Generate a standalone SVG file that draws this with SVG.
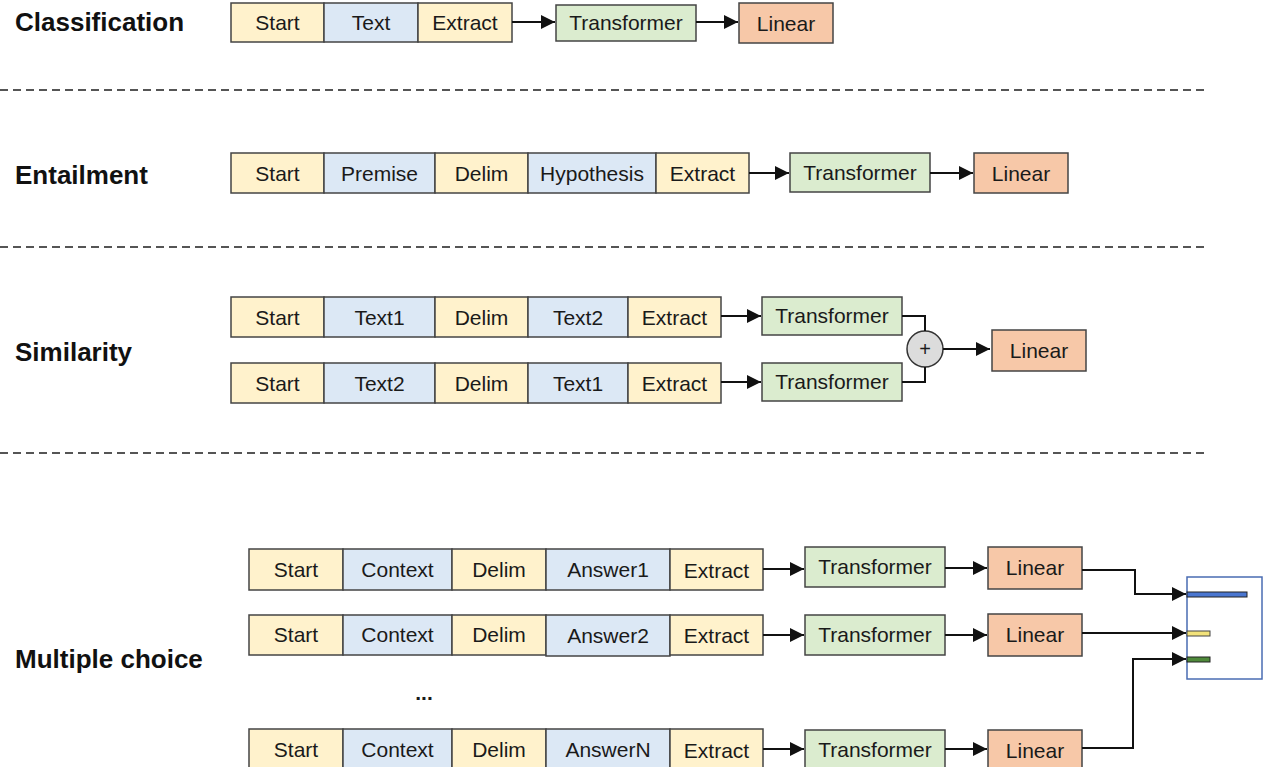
<svg xmlns="http://www.w3.org/2000/svg" width="1270" height="767" viewBox="0 0 1270 767">
  <style>
    .y { fill: #fff2cc; stroke: #444; stroke-width: 1.5; }
    .b { fill: #dce8f5; stroke: #444; stroke-width: 1.5; }
    .g { fill: #dbeccf; stroke: #444; stroke-width: 1.5; }
    .o { fill: #f7c8a8; stroke: #444; stroke-width: 1.5; }
    .t { font-family: "Liberation Sans", Arial, sans-serif; font-size: 21px; fill: #1a1a1a; text-anchor: middle; }
    .h { font-family: "Liberation Sans", Arial, sans-serif; font-size: 26px; font-weight: bold; fill: #111; }
    .sep { stroke: #555; stroke-width: 2; stroke-dasharray: 8 5; fill: none; }
    .c { stroke: #111; stroke-width: 2; fill: none; }
    .ca { stroke: #111; stroke-width: 2; fill: none; marker-end: url(#arr); }
  </style>
  <defs>
    <marker id="arr" viewBox="0 0 10 10" refX="10" refY="5" markerWidth="7" markerHeight="7" orient="auto" markerUnits="strokeWidth">
      <path d="M0,0 L10,5 L0,10 z" fill="#111"/>
    </marker>
  </defs>
  <rect width="1270" height="767" fill="#ffffff"/>

  <!-- section titles -->
  <g id="titles">
    <text class="h" x="15" y="31">Classification</text>
    <text class="h" x="15" y="184">Entailment</text>
    <text class="h" x="15" y="361">Similarity</text>
    <text class="h" x="15" y="668">Multiple choice</text>
  </g>

  <!-- section separators -->
  <g id="separators">
    <line class="sep" x1="0" y1="90" x2="1205" y2="90"/>
    <line class="sep" x1="0" y1="247" x2="1205" y2="247"/>
    <line class="sep" x1="0" y1="453" x2="1205" y2="453"/>
  </g>

  <!-- Classification -->
  <g id="cls-input">
    <rect class="y" x="231" y="3" width="93" height="39"/><text class="t" x="277.5" y="30">Start</text>
    <rect class="b" x="324" y="3" width="94" height="39"/><text class="t" x="371" y="30">Text</text>
    <rect class="y" x="418" y="3" width="94" height="39"/><text class="t" x="465" y="30">Extract</text>
  </g>
  <g id="cls-transformer"><rect class="g" x="556" y="5" width="140" height="36"/><text class="t" x="626" y="30">Transformer</text></g>
  <g id="cls-linear"><rect class="o" x="739" y="3" width="94" height="40"/><text class="t" x="786" y="31">Linear</text></g>

  <!-- Entailment -->
  <g id="ent-input">
    <rect class="y" x="231" y="153" width="93" height="40"/><text class="t" x="277.5" y="181">Start</text>
    <rect class="b" x="324" y="153" width="111" height="40"/><text class="t" x="379.5" y="181">Premise</text>
    <rect class="y" x="435" y="153" width="93" height="40"/><text class="t" x="481.5" y="181">Delim</text>
    <rect class="b" x="528" y="153" width="128" height="40"/><text class="t" x="592" y="181">Hypothesis</text>
    <rect class="y" x="656" y="153" width="93" height="40"/><text class="t" x="702.5" y="181">Extract</text>
  </g>
  <g id="ent-transformer"><rect class="g" x="790" y="153" width="140" height="39"/><text class="t" x="860" y="180">Transformer</text></g>
  <g id="ent-linear"><rect class="o" x="974" y="153" width="94" height="40"/><text class="t" x="1021" y="181">Linear</text></g>

  <!-- Similarity -->
  <g id="sim-input-1">
    <rect class="y" x="231" y="297" width="93" height="40"/><text class="t" x="277.5" y="325">Start</text>
    <rect class="b" x="324" y="297" width="111" height="40"/><text class="t" x="379.5" y="325">Text1</text>
    <rect class="y" x="435" y="297" width="93" height="40"/><text class="t" x="481.5" y="325">Delim</text>
    <rect class="b" x="528" y="297" width="100" height="40"/><text class="t" x="578" y="325">Text2</text>
    <rect class="y" x="628" y="297" width="93" height="40"/><text class="t" x="674.5" y="325">Extract</text>
  </g>
  <g id="sim-input-2">
    <rect class="y" x="231" y="363" width="93" height="40"/><text class="t" x="277.5" y="391">Start</text>
    <rect class="b" x="324" y="363" width="111" height="40"/><text class="t" x="379.5" y="391">Text2</text>
    <rect class="y" x="435" y="363" width="93" height="40"/><text class="t" x="481.5" y="391">Delim</text>
    <rect class="b" x="528" y="363" width="100" height="40"/><text class="t" x="578" y="391">Text1</text>
    <rect class="y" x="628" y="363" width="93" height="40"/><text class="t" x="674.5" y="391">Extract</text>
  </g>
  <g id="sim-transformer-1"><rect class="g" x="762" y="297" width="140" height="38"/><text class="t" x="832" y="323">Transformer</text></g>
  <g id="sim-transformer-2"><rect class="g" x="762" y="363" width="140" height="38"/><text class="t" x="832" y="389">Transformer</text></g>
  <g id="sim-sum">
    <circle cx="925" cy="349" r="18" fill="#dcdcdc" stroke="#333" stroke-width="1.5"/>
    <text class="t" x="925" y="356" style="font-size:20px">+</text>
  </g>
  <g id="sim-linear"><rect class="o" x="992" y="330" width="94" height="41"/><text class="t" x="1039" y="358">Linear</text></g>

  <!-- Multiple choice -->
  <g id="mc-input-1">
    <rect class="y" x="249" y="549" width="94" height="41"/><text class="t" x="296" y="577">Start</text>
    <rect class="b" x="343" y="549" width="109" height="41"/><text class="t" x="397.5" y="577">Context</text>
    <rect class="y" x="452" y="549" width="94" height="41"/><text class="t" x="499" y="577">Delim</text>
    <rect class="b" x="546" y="549" width="124" height="41"/><text class="t" x="608" y="577">Answer1</text>
    <rect class="y" x="670" y="549" width="93" height="41"/><text class="t" x="716.5" y="578">Extract</text>
  </g>
  <g id="mc-input-2">
    <rect class="y" x="249" y="615" width="94" height="40"/><text class="t" x="296" y="642">Start</text>
    <rect class="b" x="343" y="615" width="109" height="40"/><text class="t" x="397.5" y="642">Context</text>
    <rect class="y" x="452" y="615" width="94" height="40"/><text class="t" x="499" y="642">Delim</text>
    <rect class="b" x="546" y="615" width="124" height="41"/><text class="t" x="608" y="643">Answer2</text>
    <rect class="y" x="670" y="615" width="93" height="40"/><text class="t" x="716.5" y="643">Extract</text>
  </g>
  <g id="mc-ellipsis"><text class="t" x="424" y="700" style="font-weight:bold">...</text></g>
  <g id="mc-input-n">
    <rect class="y" x="249" y="729" width="94" height="41"/><text class="t" x="296" y="757">Start</text>
    <rect class="b" x="343" y="729" width="109" height="41"/><text class="t" x="397.5" y="757">Context</text>
    <rect class="y" x="452" y="729" width="94" height="41"/><text class="t" x="499" y="757">Delim</text>
    <rect class="b" x="546" y="729" width="124" height="41"/><text class="t" x="608" y="757">AnswerN</text>
    <rect class="y" x="670" y="729" width="93" height="41"/><text class="t" x="716.5" y="758">Extract</text>
  </g>
  <g id="mc-transformer-1"><rect class="g" x="805" y="547" width="140" height="40"/><text class="t" x="875" y="574">Transformer</text></g>
  <g id="mc-transformer-2"><rect class="g" x="805" y="615" width="140" height="40"/><text class="t" x="875" y="642">Transformer</text></g>
  <g id="mc-transformer-n"><rect class="g" x="805" y="730" width="140" height="40"/><text class="t" x="875" y="757">Transformer</text></g>
  <g id="mc-linear-1"><rect class="o" x="988" y="547" width="94" height="42"/><text class="t" x="1035" y="575">Linear</text></g>
  <g id="mc-linear-2"><rect class="o" x="988" y="614" width="94" height="42"/><text class="t" x="1035" y="642">Linear</text></g>
  <g id="mc-linear-n"><rect class="o" x="988" y="730" width="94" height="42"/><text class="t" x="1035" y="758">Linear</text></g>
  <g id="mc-output">
    <rect x="1187" y="577" width="75" height="102" fill="#ffffff" stroke="#4a6cb3" stroke-width="1.5"/>
    <rect x="1187" y="592" width="60" height="5" fill="#4a76d0" stroke="#222" stroke-width="1"/>
    <rect x="1187" y="631" width="23" height="5" fill="#f2e27a" stroke="#444" stroke-width="1"/>
    <rect x="1187" y="657" width="23" height="5" fill="#4f8a3a" stroke="#222" stroke-width="1"/>
  </g>

  <!-- connectors -->
  <g id="connectors">
    <line class="ca" x1="512" y1="22" x2="555" y2="22"/>
    <line class="ca" x1="696" y1="22" x2="738" y2="22"/>
    <line class="ca" x1="749" y1="173" x2="789" y2="173"/>
    <line class="ca" x1="930" y1="173" x2="973" y2="173"/>
    <line class="ca" x1="721" y1="316" x2="761" y2="316"/>
    <line class="ca" x1="721" y1="382" x2="761" y2="382"/>
    <polyline class="c" points="902,316 925,316 925,331"/>
    <polyline class="c" points="902,382 925,382 925,367"/>
    <line class="ca" x1="943" y1="349" x2="990" y2="349"/>
    <line class="ca" x1="763" y1="569" x2="804" y2="569"/>
    <line class="ca" x1="945" y1="568" x2="987" y2="568"/>
    <line class="ca" x1="763" y1="635" x2="804" y2="635"/>
    <line class="ca" x1="945" y1="635" x2="987" y2="635"/>
    <line class="ca" x1="763" y1="749" x2="804" y2="749"/>
    <line class="ca" x1="945" y1="749" x2="987" y2="749"/>
    <polyline class="ca" points="1082,570 1135,570 1135,594 1186,594"/>
    <line class="ca" x1="1082" y1="633" x2="1186" y2="633"/>
    <polyline class="ca" points="1082,748 1133,748 1133,659 1186,659"/>
  </g>
</svg>
